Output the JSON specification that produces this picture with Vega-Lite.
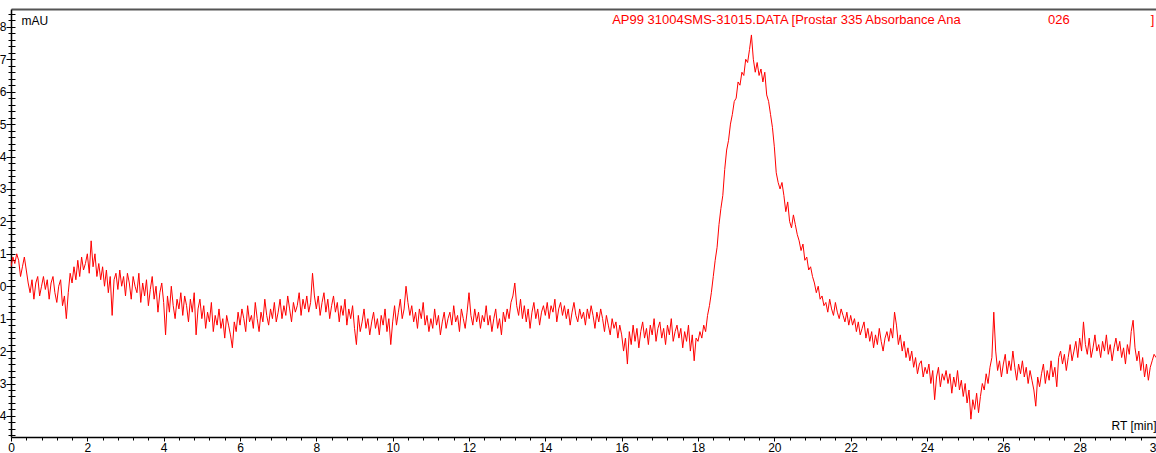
{
"$schema": "https://vega.github.io/schema/vega-lite/v6.json",
"width": 1145, "height": 428,
"autosize": "none",
"padding": {"left": 11, "top": 9, "right": 0, "bottom": 16},
"background": "white",
"config": {"view": {"stroke": null}, "font": "Liberation Sans",
  "axis": {"domainColor": "#000000", "domainWidth": 1.5, "tickColor": "#000000", "tickWidth": 1, "labelColor": "#000000", "labelFont": "Liberation Sans", "labelFontSize": 12, "titleFont": "Liberation Sans", "titleFontSize": 12, "titleFontWeight": "normal", "titleColor": "#000000", "grid": false, "labelOverlap": false, "labelBound": false, "labelFlush": false}},
"datasets": {
"notes": [
 {"t": 15.75, "v": 8.2, "label": "AP99 31004SMS-31015.DATA [Prostar 335 Absorbance Ana"},
 {"t": 27.17, "v": 8.2, "label": "026"},
 {"t": 29.86, "v": 8.2, "label": "]"}
],
"trace": [
{"t":0,"v":0.6},{"t":0.05,"v":0.9},{"t":0.1,"v":0.7},{"t":0.15,"v":1.0},{"t":0.2,"v":0.8},{"t":0.25,"v":0.3},{"t":0.3,"v":0.6},{"t":0.35,"v":0.9},{"t":0.4,"v":0.5},{"t":0.45,"v":0.1},
{"t":0.5,"v":-0.2},{"t":0.55,"v":0.2},{"t":0.6,"v":-0.4},{"t":0.65,"v":0.1},{"t":0.7,"v":0.3},{"t":0.75,"v":-0.3},{"t":0.8,"v":0.0},{"t":0.85,"v":0.3},{"t":0.9,"v":-0.1},{"t":0.95,"v":0.2},
{"t":1.0,"v":-0.4},{"t":1.05,"v":0.1},{"t":1.1,"v":0.3},{"t":1.15,"v":-0.2},{"t":1.2,"v":-0.5},{"t":1.25,"v":0.0},{"t":1.3,"v":0.2},{"t":1.35,"v":-0.6},{"t":1.4,"v":-0.3},{"t":1.45,"v":-1.0},
{"t":1.5,"v":-0.2},{"t":1.55,"v":0.4},{"t":1.6,"v":0.1},{"t":1.65,"v":0.6},{"t":1.7,"v":0.2},{"t":1.75,"v":0.8},{"t":1.8,"v":0.3},{"t":1.85,"v":0.9},{"t":1.9,"v":0.5},{"t":1.95,"v":0.7},
{"t":2.0,"v":1.0},{"t":2.05,"v":0.4},{"t":2.1,"v":1.4},{"t":2.15,"v":0.6},{"t":2.2,"v":1.0},{"t":2.25,"v":0.3},{"t":2.3,"v":0.7},{"t":2.35,"v":0.2},{"t":2.4,"v":0.6},{"t":2.45,"v":0.0},
{"t":2.5,"v":0.5},{"t":2.55,"v":-0.2},{"t":2.6,"v":0.3},{"t":2.65,"v":-0.9},{"t":2.7,"v":0.2},{"t":2.75,"v":0.4},{"t":2.8,"v":-0.1},{"t":2.85,"v":0.5},{"t":2.9,"v":0.0},{"t":2.95,"v":0.3},
{"t":3.0,"v":-0.3},{"t":3.05,"v":0.4},{"t":3.1,"v":0.1},{"t":3.15,"v":-0.4},{"t":3.2,"v":0.3},{"t":3.25,"v":0.0},{"t":3.3,"v":-0.2},{"t":3.35,"v":0.4},{"t":3.4,"v":-0.5},{"t":3.45,"v":0.1},
{"t":3.5,"v":-0.3},{"t":3.55,"v":0.2},{"t":3.6,"v":-0.6},{"t":3.65,"v":-0.1},{"t":3.7,"v":0.3},{"t":3.75,"v":-0.4},{"t":3.8,"v":0.0},{"t":3.85,"v":-0.8},{"t":3.9,"v":-0.2},{"t":3.95,"v":0.1},
{"t":4.0,"v":-0.5},{"t":4.05,"v":-1.5},{"t":4.1,"v":-0.3},{"t":4.15,"v":-0.8},{"t":4.2,"v":0.0},{"t":4.25,"v":-0.6},{"t":4.3,"v":-1.0},{"t":4.35,"v":-0.4},{"t":4.4,"v":-0.7},{"t":4.45,"v":-0.2},
{"t":4.5,"v":-0.9},{"t":4.55,"v":-0.3},{"t":4.6,"v":-0.6},{"t":4.65,"v":-1.1},{"t":4.7,"v":-0.4},{"t":4.75,"v":-0.8},{"t":4.8,"v":-0.2},{"t":4.85,"v":-1.5},{"t":4.9,"v":-0.7},{"t":4.95,"v":-0.4},
{"t":5.0,"v":-1.0},{"t":5.05,"v":-0.6},{"t":5.1,"v":-1.3},{"t":5.15,"v":-0.8},{"t":5.2,"v":-1.1},{"t":5.25,"v":-0.5},{"t":5.3,"v":-1.4},{"t":5.35,"v":-0.9},{"t":5.4,"v":-1.2},{"t":5.45,"v":-0.7},
{"t":5.5,"v":-1.3},{"t":5.55,"v":-1.0},{"t":5.6,"v":-1.6},{"t":5.65,"v":-0.9},{"t":5.7,"v":-1.2},{"t":5.75,"v":-1.5},{"t":5.8,"v":-1.9},{"t":5.85,"v":-1.1},{"t":5.9,"v":-1.4},{"t":5.95,"v":-0.8},
{"t":6.0,"v":-1.2},{"t":6.05,"v":-0.7},{"t":6.1,"v":-1.0},{"t":6.15,"v":-1.4},{"t":6.2,"v":-0.6},{"t":6.25,"v":-1.1},{"t":6.3,"v":-0.9},{"t":6.35,"v":-1.3},{"t":6.4,"v":-0.5},{"t":6.45,"v":-1.0},
{"t":6.5,"v":-1.4},{"t":6.55,"v":-0.8},{"t":6.6,"v":-1.1},{"t":6.65,"v":-0.4},{"t":6.7,"v":-0.9},{"t":6.75,"v":-1.2},{"t":6.8,"v":-0.7},{"t":6.85,"v":-1.0},{"t":6.9,"v":-0.5},{"t":6.95,"v":-1.1},
{"t":7.0,"v":-0.8},{"t":7.05,"v":-0.4},{"t":7.1,"v":-1.0},{"t":7.15,"v":-0.6},{"t":7.2,"v":-0.9},{"t":7.25,"v":-0.3},{"t":7.3,"v":-0.7},{"t":7.35,"v":-1.1},{"t":7.4,"v":-0.5},{"t":7.45,"v":-0.8},
{"t":7.5,"v":-0.6},{"t":7.55,"v":-0.2},{"t":7.6,"v":-0.9},{"t":7.65,"v":-0.4},{"t":7.7,"v":-0.7},{"t":7.75,"v":-0.3},{"t":7.8,"v":-0.8},{"t":7.85,"v":-0.5},{"t":7.9,"v":0.4},{"t":7.95,"v":-0.3},
{"t":8.0,"v":-0.7},{"t":8.05,"v":-0.3},{"t":8.1,"v":-0.9},{"t":8.15,"v":-0.5},{"t":8.2,"v":-0.2},{"t":8.25,"v":-0.8},{"t":8.3,"v":-0.4},{"t":8.35,"v":-1.0},{"t":8.4,"v":-0.6},{"t":8.45,"v":-0.3},
{"t":8.5,"v":-0.8},{"t":8.55,"v":-0.5},{"t":8.6,"v":-1.1},{"t":8.65,"v":-0.6},{"t":8.7,"v":-0.9},{"t":8.75,"v":-0.4},{"t":8.8,"v":-1.2},{"t":8.85,"v":-0.7},{"t":8.9,"v":-1.0},{"t":8.95,"v":-0.6},
{"t":9.0,"v":-1.3},{"t":9.05,"v":-1.8},{"t":9.1,"v":-0.9},{"t":9.15,"v":-1.4},{"t":9.2,"v":-1.1},{"t":9.25,"v":-0.7},{"t":9.3,"v":-1.3},{"t":9.35,"v":-1.0},{"t":9.4,"v":-1.5},{"t":9.45,"v":-1.1},
{"t":9.5,"v":-0.8},{"t":9.55,"v":-1.3},{"t":9.6,"v":-1.0},{"t":9.65,"v":-1.5},{"t":9.7,"v":-0.9},{"t":9.75,"v":-1.2},{"t":9.8,"v":-0.7},{"t":9.85,"v":-1.4},{"t":9.9,"v":-1.0},{"t":9.95,"v":-1.8},
{"t":10.0,"v":-1.1},{"t":10.05,"v":-0.6},{"t":10.1,"v":-1.2},{"t":10.15,"v":-0.8},{"t":10.2,"v":-0.4},{"t":10.25,"v":-1.0},{"t":10.3,"v":-0.7},{"t":10.35,"v":0.0},{"t":10.4,"v":-0.5},{"t":10.45,"v":-0.9},
{"t":10.5,"v":-0.6},{"t":10.55,"v":-1.1},{"t":10.6,"v":-0.8},{"t":10.65,"v":-1.3},{"t":10.7,"v":-0.7},{"t":10.75,"v":-1.0},{"t":10.8,"v":-0.5},{"t":10.85,"v":-1.2},{"t":10.9,"v":-0.9},{"t":10.95,"v":-1.4},
{"t":11.0,"v":-1.0},{"t":11.05,"v":-1.3},{"t":11.1,"v":-0.7},{"t":11.15,"v":-1.2},{"t":11.2,"v":-0.9},{"t":11.25,"v":-1.5},{"t":11.3,"v":-1.1},{"t":11.35,"v":-0.8},{"t":11.4,"v":-1.3},{"t":11.45,"v":-1.0},
{"t":11.5,"v":-0.8},{"t":11.55,"v":-1.2},{"t":11.6,"v":-0.6},{"t":11.65,"v":-1.1},{"t":11.7,"v":-0.9},{"t":11.75,"v":-1.4},{"t":11.8,"v":-0.7},{"t":11.85,"v":-1.0},{"t":11.9,"v":-1.3},{"t":11.95,"v":-0.8},
{"t":12.0,"v":-0.2},{"t":12.05,"v":-0.9},{"t":12.1,"v":-1.2},{"t":12.15,"v":-0.7},{"t":12.2,"v":-1.1},{"t":12.25,"v":-0.8},{"t":12.3,"v":-1.3},{"t":12.35,"v":-0.9},{"t":12.4,"v":-1.1},{"t":12.45,"v":-0.6},
{"t":12.5,"v":-1.2},{"t":12.55,"v":-0.9},{"t":12.6,"v":-1.4},{"t":12.65,"v":-1.0},{"t":12.7,"v":-0.7},{"t":12.75,"v":-1.3},{"t":12.8,"v":-1.0},{"t":12.85,"v":-1.5},{"t":12.9,"v":-0.8},{"t":12.95,"v":-1.1},
{"t":13.0,"v":-0.7},{"t":13.05,"v":-1.0},{"t":13.1,"v":-0.5},{"t":13.15,"v":-0.3},{"t":13.2,"v":0.1},{"t":13.25,"v":-0.6},{"t":13.3,"v":-0.9},{"t":13.35,"v":-0.4},{"t":13.4,"v":-1.0},{"t":13.45,"v":-0.6},
{"t":13.5,"v":-1.1},{"t":13.55,"v":-0.7},{"t":13.6,"v":-1.3},{"t":13.65,"v":-0.8},{"t":13.7,"v":-0.5},{"t":13.75,"v":-1.0},{"t":13.8,"v":-0.7},{"t":13.85,"v":-1.2},{"t":13.9,"v":-0.8},{"t":13.95,"v":-0.6},
{"t":14.0,"v":-0.9},{"t":14.05,"v":-0.5},{"t":14.1,"v":-1.0},{"t":14.15,"v":-0.6},{"t":14.2,"v":-0.8},{"t":14.25,"v":-0.4},{"t":14.3,"v":-1.1},{"t":14.35,"v":-0.7},{"t":14.4,"v":-0.5},{"t":14.45,"v":-0.9},
{"t":14.5,"v":-0.6},{"t":14.55,"v":-1.0},{"t":14.6,"v":-0.7},{"t":14.65,"v":-1.2},{"t":14.7,"v":-0.8},{"t":14.75,"v":-0.5},{"t":14.8,"v":-0.9},{"t":14.85,"v":-1.1},{"t":14.9,"v":-0.7},{"t":14.95,"v":-1.0},
{"t":15.0,"v":-0.8},{"t":15.05,"v":-1.2},{"t":15.1,"v":-0.7},{"t":15.15,"v":-1.0},{"t":15.2,"v":-0.6},{"t":15.25,"v":-0.9},{"t":15.3,"v":-1.3},{"t":15.35,"v":-0.8},{"t":15.4,"v":-1.1},{"t":15.45,"v":-0.7},
{"t":15.5,"v":-1.0},{"t":15.55,"v":-1.4},{"t":15.6,"v":-0.9},{"t":15.65,"v":-1.2},{"t":15.7,"v":-1.5},{"t":15.75,"v":-1.0},{"t":15.8,"v":-1.3},{"t":15.85,"v":-1.1},{"t":15.9,"v":-1.6},{"t":15.95,"v":-1.2},
{"t":16.0,"v":-1.5},{"t":16.05,"v":-2.0},{"t":16.1,"v":-1.6},{"t":16.15,"v":-2.4},{"t":16.2,"v":-1.4},{"t":16.25,"v":-1.8},{"t":16.3,"v":-1.2},{"t":16.35,"v":-1.7},{"t":16.4,"v":-1.3},{"t":16.45,"v":-1.9},
{"t":16.5,"v":-1.4},{"t":16.55,"v":-1.1},{"t":16.6,"v":-1.6},{"t":16.65,"v":-1.3},{"t":16.7,"v":-1.8},{"t":16.75,"v":-1.2},{"t":16.8,"v":-1.5},{"t":16.85,"v":-1.0},{"t":16.9,"v":-1.7},{"t":16.95,"v":-1.3},
{"t":17.0,"v":-1.1},{"t":17.05,"v":-1.6},{"t":17.1,"v":-1.3},{"t":17.15,"v":-1.8},{"t":17.2,"v":-1.2},{"t":17.25,"v":-1.5},{"t":17.3,"v":-1.0},{"t":17.35,"v":-1.7},{"t":17.4,"v":-1.4},{"t":17.45,"v":-1.2},
{"t":17.5,"v":-1.6},{"t":17.55,"v":-1.3},{"t":17.6,"v":-1.9},{"t":17.65,"v":-1.4},{"t":17.7,"v":-1.7},{"t":17.75,"v":-1.2},{"t":17.8,"v":-2.0},{"t":17.85,"v":-1.5},{"t":17.9,"v":-2.3},{"t":17.95,"v":-1.6},
{"t":18.0,"v":-1.7},{"t":18.05,"v":-1.4},{"t":18.1,"v":-1.6},{"t":18.15,"v":-1.2},{"t":18.2,"v":-1.4},{"t":18.25,"v":-0.9},{"t":18.3,"v":-0.6},{"t":18.35,"v":-0.2},{"t":18.4,"v":0.3},{"t":18.45,"v":0.8},
{"t":18.5,"v":1.2},{"t":18.55,"v":1.9},{"t":18.6,"v":2.4},{"t":18.65,"v":2.8},{"t":18.7,"v":3.6},{"t":18.75,"v":4.2},{"t":18.8,"v":4.5},{"t":18.85,"v":5.0},{"t":18.9,"v":5.3},{"t":18.95,"v":5.7},
{"t":19.0,"v":5.8},{"t":19.05,"v":6.3},{"t":19.1,"v":6.2},{"t":19.15,"v":6.6},{"t":19.2,"v":6.5},{"t":19.25,"v":7.0},{"t":19.3,"v":6.9},{"t":19.35,"v":7.3},{"t":19.4,"v":7.75},{"t":19.45,"v":7.0},
{"t":19.5,"v":6.6},{"t":19.55,"v":6.9},{"t":19.6,"v":6.5},{"t":19.65,"v":6.7},{"t":19.7,"v":6.3},{"t":19.75,"v":6.6},{"t":19.8,"v":5.9},{"t":19.85,"v":5.7},{"t":19.9,"v":5.3},{"t":19.95,"v":4.9},
{"t":20.0,"v":4.3},{"t":20.05,"v":3.5},{"t":20.1,"v":3.2},{"t":20.15,"v":3.0},{"t":20.2,"v":3.2},{"t":20.25,"v":2.8},{"t":20.3,"v":2.3},{"t":20.35,"v":2.6},{"t":20.4,"v":2.0},{"t":20.45,"v":1.8},
{"t":20.5,"v":2.2},{"t":20.55,"v":1.9},{"t":20.6,"v":1.6},{"t":20.65,"v":1.4},{"t":20.7,"v":1.1},{"t":20.75,"v":1.3},{"t":20.8,"v":0.8},{"t":20.85,"v":0.9},{"t":20.9,"v":0.5},{"t":20.95,"v":0.6},
{"t":21.0,"v":0.3},{"t":21.05,"v":0.1},{"t":21.1,"v":-0.2},{"t":21.15,"v":0.0},{"t":21.2,"v":-0.4},{"t":21.25,"v":-0.3},{"t":21.3,"v":-0.6},{"t":21.35,"v":-0.5},{"t":21.4,"v":-0.8},{"t":21.45,"v":-0.4},
{"t":21.5,"v":-0.7},{"t":21.55,"v":-0.9},{"t":21.6,"v":-0.5},{"t":21.65,"v":-0.8},{"t":21.7,"v":-1.0},{"t":21.75,"v":-0.7},{"t":21.8,"v":-0.9},{"t":21.85,"v":-1.1},{"t":21.9,"v":-0.8},{"t":21.95,"v":-1.2},
{"t":22.0,"v":-0.9},{"t":22.05,"v":-1.2},{"t":22.1,"v":-1.0},{"t":22.15,"v":-1.4},{"t":22.2,"v":-1.1},{"t":22.25,"v":-1.5},{"t":22.3,"v":-1.3},{"t":22.35,"v":-1.1},{"t":22.4,"v":-1.6},{"t":22.45,"v":-1.3},
{"t":22.5,"v":-1.7},{"t":22.55,"v":-1.4},{"t":22.6,"v":-1.9},{"t":22.65,"v":-1.5},{"t":22.7,"v":-1.8},{"t":22.75,"v":-1.3},{"t":22.8,"v":-1.7},{"t":22.85,"v":-2.0},{"t":22.9,"v":-1.6},{"t":22.95,"v":-1.4},
{"t":23.0,"v":-1.7},{"t":23.05,"v":-1.3},{"t":23.1,"v":-1.6},{"t":23.15,"v":-0.8},{"t":23.2,"v":-1.2},{"t":23.25,"v":-1.8},{"t":23.3,"v":-1.5},{"t":23.35,"v":-2.0},{"t":23.4,"v":-1.7},{"t":23.45,"v":-2.2},
{"t":23.5,"v":-1.9},{"t":23.55,"v":-2.3},{"t":23.6,"v":-2.0},{"t":23.65,"v":-2.5},{"t":23.7,"v":-2.2},{"t":23.75,"v":-2.7},{"t":23.8,"v":-2.4},{"t":23.85,"v":-2.3},{"t":23.9,"v":-2.8},{"t":23.95,"v":-2.5},
{"t":24.0,"v":-2.7},{"t":24.05,"v":-2.4},{"t":24.1,"v":-3.0},{"t":24.15,"v":-2.6},{"t":24.2,"v":-3.5},{"t":24.25,"v":-2.8},{"t":24.3,"v":-2.5},{"t":24.35,"v":-3.1},{"t":24.4,"v":-2.7},{"t":24.45,"v":-2.9},
{"t":24.5,"v":-2.6},{"t":24.55,"v":-3.0},{"t":24.6,"v":-2.7},{"t":24.65,"v":-3.3},{"t":24.7,"v":-2.8},{"t":24.75,"v":-3.1},{"t":24.8,"v":-2.6},{"t":24.85,"v":-3.2},{"t":24.9,"v":-2.9},{"t":24.95,"v":-3.4},
{"t":25.0,"v":-3.0},{"t":25.05,"v":-3.6},{"t":25.1,"v":-3.2},{"t":25.15,"v":-4.1},{"t":25.2,"v":-3.5},{"t":25.25,"v":-3.8},{"t":25.3,"v":-3.3},{"t":25.35,"v":-3.9},{"t":25.4,"v":-3.4},{"t":25.45,"v":-3.0},
{"t":25.5,"v":-3.2},{"t":25.55,"v":-2.7},{"t":25.6,"v":-3.0},{"t":25.65,"v":-2.5},{"t":25.7,"v":-2.2},{"t":25.75,"v":-0.8},{"t":25.8,"v":-2.0},{"t":25.85,"v":-2.6},{"t":25.9,"v":-2.3},{"t":25.95,"v":-2.8},
{"t":26.0,"v":-2.4},{"t":26.05,"v":-2.1},{"t":26.1,"v":-2.7},{"t":26.15,"v":-2.3},{"t":26.2,"v":-2.6},{"t":26.25,"v":-2.0},{"t":26.3,"v":-2.5},{"t":26.35,"v":-2.9},{"t":26.4,"v":-2.4},{"t":26.45,"v":-2.7},
{"t":26.5,"v":-2.3},{"t":26.55,"v":-2.8},{"t":26.6,"v":-2.5},{"t":26.65,"v":-3.0},{"t":26.7,"v":-2.6},{"t":26.75,"v":-2.9},{"t":26.8,"v":-3.2},{"t":26.85,"v":-3.7},{"t":26.9,"v":-2.8},{"t":26.95,"v":-3.1},
{"t":27.0,"v":-2.7},{"t":27.05,"v":-2.4},{"t":27.1,"v":-3.0},{"t":27.15,"v":-2.6},{"t":27.2,"v":-2.9},{"t":27.25,"v":-2.3},{"t":27.3,"v":-2.8},{"t":27.35,"v":-2.5},{"t":27.4,"v":-3.1},{"t":27.45,"v":-2.2},
{"t":27.5,"v":-2.0},{"t":27.55,"v":-2.4},{"t":27.6,"v":-2.1},{"t":27.65,"v":-2.6},{"t":27.7,"v":-2.2},{"t":27.75,"v":-1.8},{"t":27.8,"v":-2.3},{"t":27.85,"v":-2.0},{"t":27.9,"v":-1.7},{"t":27.95,"v":-2.2},
{"t":28.0,"v":-1.6},{"t":28.05,"v":-2.0},{"t":28.1,"v":-1.1},{"t":28.15,"v":-1.8},{"t":28.2,"v":-2.1},{"t":28.25,"v":-1.6},{"t":28.3,"v":-2.2},{"t":28.35,"v":-1.9},{"t":28.4,"v":-1.5},{"t":28.45,"v":-2.0},
{"t":28.5,"v":-1.8},{"t":28.55,"v":-2.2},{"t":28.6,"v":-1.7},{"t":28.65,"v":-2.0},{"t":28.7,"v":-1.5},{"t":28.75,"v":-2.1},{"t":28.8,"v":-1.8},{"t":28.85,"v":-2.3},{"t":28.9,"v":-1.9},{"t":28.95,"v":-1.6},
{"t":29.0,"v":-2.0},{"t":29.05,"v":-1.7},{"t":29.1,"v":-2.2},{"t":29.15,"v":-1.9},{"t":29.2,"v":-2.4},{"t":29.25,"v":-1.8},{"t":29.3,"v":-2.1},{"t":29.35,"v":-1.4},{"t":29.4,"v":-1.05},{"t":29.45,"v":-1.9},
{"t":29.5,"v":-2.3},{"t":29.55,"v":-2.0},{"t":29.6,"v":-2.6},{"t":29.65,"v":-2.2},{"t":29.7,"v":-2.8},{"t":29.75,"v":-2.4},{"t":29.8,"v":-2.9},{"t":29.85,"v":-2.5},{"t":29.9,"v":-2.3},{"t":29.95,"v":-2.1},
{"t":30.0,"v":-2.2}
]},
"layer": [
 {"data": {"name": "trace"},
  "mark": {"type": "line", "color": "#ff0000", "strokeWidth": 1, "clip": true, "interpolate": "linear"},
  "encoding": {
   "x": {"field": "t", "type": "quantitative", "scale": {"domain": [0, 30], "nice": false, "zero": false},
     "axis": {"orient": "bottom", "title": "RT [min]", "titleAngle": 0, "titleAlign": "right", "titleBaseline": "middle", "titleX": 1145, "titleY": -12, "titleAnchor": null,
       "values": [0,0.4,0.8,1.2,1.6,2,2.4,2.8,3.2,3.6,4,4.4,4.8,5.2,5.6,6,6.4,6.8,7.2,7.6,8,8.4,8.8,9.2,9.6,10,10.4,10.8,11.2,11.6,12,12.4,12.8,13.2,13.6,14,14.4,14.8,15.2,15.6,16,16.4,16.8,17.2,17.6,18,18.4,18.8,19.2,19.6,20,20.4,20.8,21.2,21.6,22,22.4,22.8,23.2,23.6,24,24.4,24.8,25.2,25.6,26,26.4,26.8,27.2,27.6,28,28.4,28.8,29.2,29.6,30],
       "labelExpr": "abs(datum.value/2 - round(datum.value/2)) < 0.001 ? format(datum.value, 'd') : ''",
       "tickSize": {"condition": {"test": "abs(datum.value/2 - round(datum.value/2)) < 0.001", "value": 4}, "value": 3},
       "labelPadding": 1}},
   "y": {"field": "v", "type": "quantitative", "scale": {"domain": [-4.65, 8.55], "nice": false, "zero": false},
     "axis": {"orient": "left", "title": "mAU", "titleAngle": 0, "titleAlign": "left", "titleBaseline": "middle", "titleX": 10, "titleY": 11, "titleAnchor": null,
       "values": [-4.6,-4.4,-4.2,-4,-3.8,-3.6,-3.4,-3.2,-3,-2.8,-2.6,-2.4,-2.2,-2,-1.8,-1.6,-1.4,-1.2,-1,-0.8,-0.6,-0.4,-0.2,0,0.2,0.4,0.6,0.8,1,1.2,1.4,1.6,1.8,2,2.2,2.4,2.6,2.8,3,3.2,3.4,3.6,3.8,4,4.2,4.4,4.6,4.8,5,5.2,5.4,5.6,5.8,6,6.2,6.4,6.6,6.8,7,7.2,7.4,7.6,7.8,8,8.2,8.4],
       "labelExpr": "abs(datum.value - round(datum.value)) < 0.001 ? format(datum.value, 'd') : ''",
       "tickSize": {"condition": {"test": "abs(datum.value - round(datum.value)) < 0.001", "value": 5}, "value": 3},
       "labelPadding": 0}}
  }},
 {"data": {"name": "notes"},
  "mark": {"type": "text", "color": "#ff0000", "align": "left", "baseline": "middle", "fontSize": 13, "font": "Liberation Sans"},
  "encoding": {
   "x": {"field": "t", "type": "quantitative", "scale": {"domain": [0, 30], "nice": false, "zero": false},
     "axis": {"orient": "top", "title": null, "labels": false, "ticks": false, "domainColor": "#555555", "domainWidth": 2}},
   "y": {"field": "v", "type": "quantitative", "scale": {"domain": [-4.65, 8.55], "nice": false, "zero": false},
     "axis": {"orient": "left", "title": null, "labels": false, "domain": false,
       "values": [-4.6,-4.4,-4.2,-4,-3.8,-3.6,-3.4,-3.2,-3,-2.8,-2.6,-2.4,-2.2,-2,-1.8,-1.6,-1.4,-1.2,-1,-0.8,-0.6,-0.4,-0.2,0,0.2,0.4,0.6,0.8,1,1.2,1.4,1.6,1.8,2,2.2,2.4,2.6,2.8,3,3.2,3.4,3.6,3.8,4,4.2,4.4,4.6,4.8,5,5.2,5.4,5.6,5.8,6,6.2,6.4,6.6,6.8,7,7.2,7.4,7.6,7.8,8,8.2,8.4],
       "tickSize": -4}},
   "text": {"field": "label"}
  }}
],
"resolve": {"axis": {"x": "independent", "y": "independent"}}
}
